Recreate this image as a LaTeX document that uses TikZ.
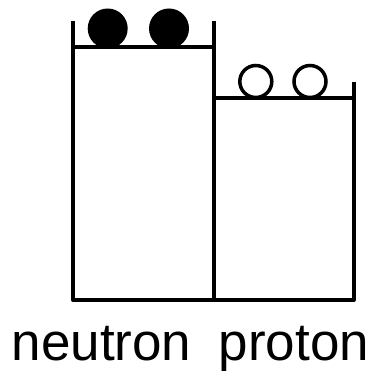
\documentclass[tikz,border=0pt]{standalone}
\usepackage{fontspec}
\setmainfont{Liberation Sans}
\usetikzlibrary{positioning}
\begin{document}
\begin{tikzpicture}[x=1pt, y=-1pt,
    wall/.style={line width=4pt, line join=round},
    full/.style={circle, fill=black, minimum size=40pt, inner sep=0pt},
    hole/.style={circle, draw=black, line width=3.5pt, minimum size=32pt, inner sep=0pt},
    partname/.style={font=\fontsize{53}{60}\selectfont, anchor=base west, inner sep=0pt}
]
\useasboundingbox (0,0) rectangle (380,371);
% neutron well
\draw[wall] (73,21) -- (73,300) -- (213.5,300) -- (213.5,21);
\draw[wall] (73,47) -- (213.5,47);
% proton well
\draw[wall] (213.5,300) -- (353.5,300) -- (353.5,82);
\draw[wall] (213.5,98) -- (353.5,98);
% levels
\node[full] (n1) at (107.7,28.5) {};
\node[full] (n2) at (169,28.5) {};
\node[hole] (p1) at (255.8,81.5) {};
\node[hole] (p2) at (310,81.5) {};
% names
\node[partname] (neutron) at (11.5,360) {neutron};
\node[partname] (proton) at (218.5,360) {proton};
\end{tikzpicture}
\end{document}
